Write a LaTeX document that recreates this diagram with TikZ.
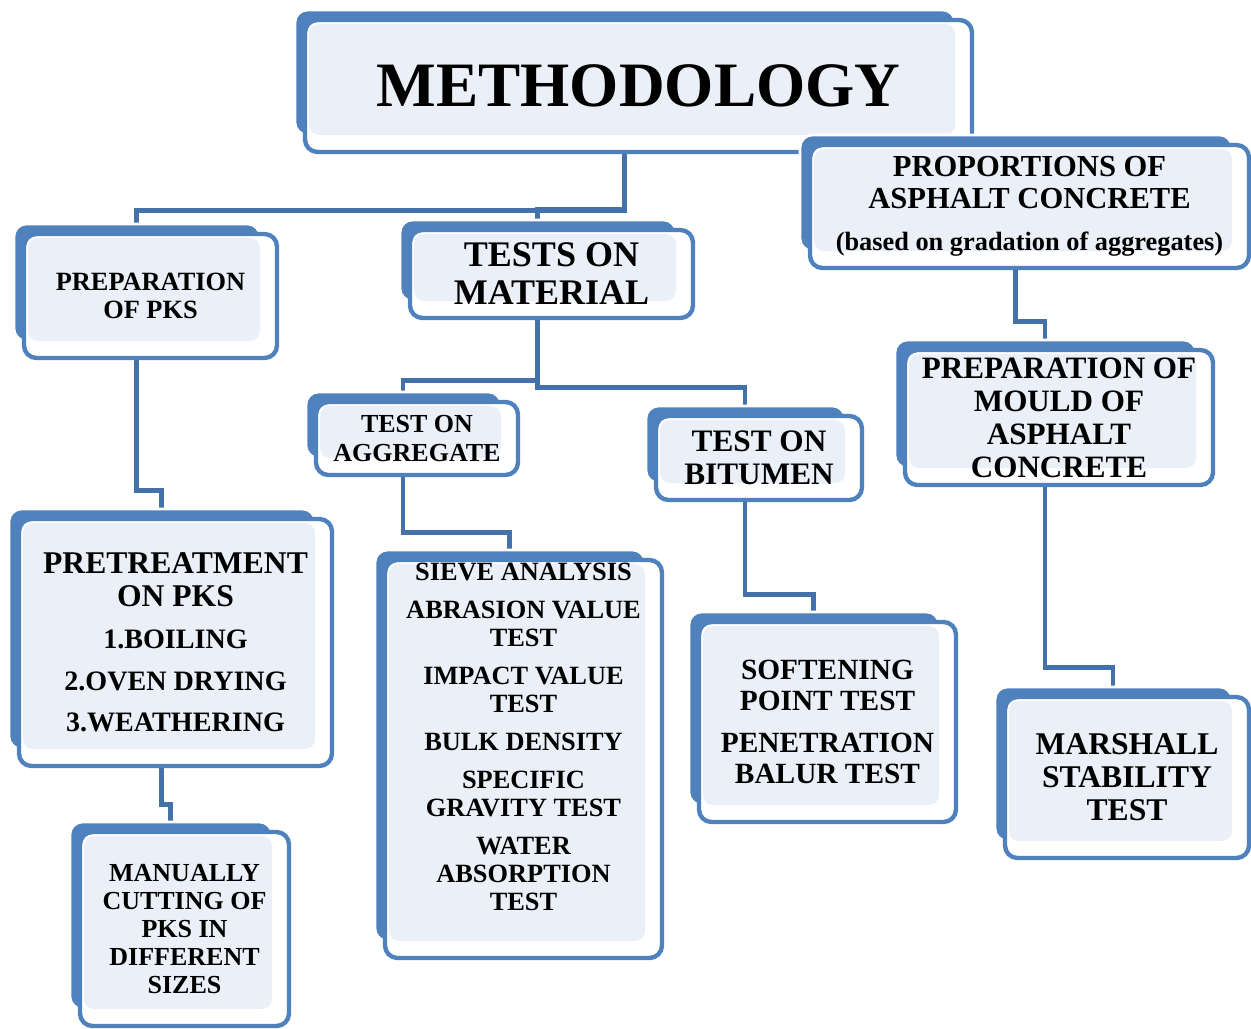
\documentclass[tikz,border=0pt]{standalone}
\usepackage{fontspec}
\setmainfont{Liberation Serif}
\usetikzlibrary{calc,backgrounds}

\definecolor{boxblue}{HTML}{4F81BD}
\definecolor{boxlight}{HTML}{EBF0F8}
\definecolor{linkblue}{HTML}{4571AB}

\newcommand{\fs}[2]{\fontsize{#1}{#2}\selectfont}

% front box (left, top, right, bottom) with its blue back plate
\newcommand{\tierbox}[7]{%
  \filldraw[fill=boxblue,draw=white,line width=1.5pt,rounded corners=0.25cm] (#2-10,#3-10) rectangle (#4-17,#5-17);
  \node[tier,font={\bfseries#6},minimum width={(#4-#2)*0.02cm},minimum height={(#5-#3)*0.02cm}] (#1) at ({(#2+#4)/2},{(#3+#5)/2}) {#7};}

\tikzset{
  tier/.style={draw=boxblue,line width=2.5pt,fill=white,rounded corners=0.25cm,
    align=center,inner sep=0pt,
    path picture={\fill[boxlight,rounded corners=0.2cm]
      ($(path picture bounding box.north west)+(4,4)$) rectangle
      ($(path picture bounding box.south east)+(-17,-17)$);}},
  txt/.style={align=center,inner sep=0pt},
  link/.style={draw=linkblue,line width=2.8pt},
}

\begin{document}
\begin{tikzpicture}[x=0.02cm,y=-0.02cm]
  \useasboundingbox (0,0) rectangle (1251,1028);
  \def\cx{-14}      %x offset of the connectors from the box centres.

  % Top row
  \tierbox{meth}{305}{20}{972}{152}{\fs{36}{40}}{METHODOLOGY}
  \tierbox{prop}{810}{145}{1249}{268}{\fs{17.4}{18.2}}{PROPORTIONS OF\\ASPHALT CONCRETE\\[6pt]\fs{15}{16}(based on gradation of aggregates)}
  \tierbox{pks}{24}{234}{277}{358}{\fs{15}{15.5}}{PREPARATION\\OF PKS}
  \tierbox{matl}{410}{230}{693}{318}{\fs{20.5}{21.6}}{TESTS ON\\MATERIAL}

  % Second row
  \tierbox{agg}{316}{402}{518}{475}{\fs{14.8}{16}}{TEST ON\\AGGREGATE}
  \tierbox{bit}{656}{416}{862}{500}{\fs{17.8}{18.8}}{TEST ON\\BITUMEN}
  \tierbox{mould}{905}{350}{1213}{485}{\fs{17.7}{18.8}}{PREPARATION OF\\MOULD OF\\ASPHALT\\CONCRETE}

  % Lower boxes
  \tierbox{pre}{19}{519}{332}{766}{\fs{18}{18.8}}{PRETREATMENT\\ON PKS\\[5pt]\fs{16}{18.8}1.BOILING\\[5pt]\fs{16}{18.8}2.OVEN DRYING\\[5pt]\fs{16}{18.8}3.WEATHERING}
  \tierbox{man}{80}{832}{289}{1026}{\fs{14.8}{16}}{MANUALLY\\CUTTING OF\\PKS IN\\DIFFERENT\\SIZES}
  \tierbox{sieve}{385}{560}{662}{958}{}{}
  \node[txt,font={\bfseries\fs{15}{16}}] (sievetxt) at ($(sieve)+(0,-22)$) {SIEVE ANALYSIS\\[5.6pt]ABRASION VALUE\\TEST\\[5.6pt]IMPACT VALUE\\TEST\\[5.6pt]BULK DENSITY\\[5.6pt]SPECIFIC\\GRAVITY TEST\\[5.6pt]WATER\\ABSORPTION\\TEST};
  \tierbox{soft}{699}{622}{956}{822}{\fs{16.7}{17.6}}{SOFTENING\\POINT TEST\\[6.4pt]PENETRATION\\BALUR TEST}
  \tierbox{marsh}{1005}{697}{1249}{858}{\fs{18}{18.8}}{MARSHALL\\STABILITY\\TEST}

  % Connectors, behind the boxes
  \begin{scope}[on background layer]
    \draw[link] ($(meth.south)+(\cx,0)$) |- ($(pks.north)+(\cx,-21)$) -- ($(pks.north)+(\cx,0)$);
    \draw[link] ($(matl.north)+(\cx,0)$) |- ($(meth.south)+(\cx,55)$);
    \draw[link] ($(pks.south)+(\cx,0)$) |- ($(pre.north)+(\cx,-26)$) -- ($(pre.north)+(\cx,0)$);
    \draw[link] ($(pre.south)+(\cx,0)$) |- ($(man.north)+(\cx,-25)$) -- ($(man.north)+(\cx,0)$);
    \draw[link] ($(matl.south)+(\cx,0)$) |- ($(bit.north)+(\cx,-26)$) -- ($(bit.north)+(\cx,0)$);
    \draw[link] ($(matl.south)+(\cx,60)$) -| ($(agg.north)+(\cx,0)$);
    \draw[link] ($(agg.south)+(\cx,0)$) |- ($(sieve.north)+(\cx,-25)$) -- ($(sieve.north)+(\cx,0)$);
    \draw[link] ($(bit.south)+(\cx,0)$) |- ($(soft.north)+(\cx,-25)$) -- ($(soft.north)+(\cx,0)$);
    \draw[link] ($(prop.south)+(\cx,0)$) |- ($(mould.north)+(\cx,-26)$) -- ($(mould.north)+(\cx,0)$);
    \draw[link] ($(mould.south)+(\cx,0)$) |- ($(marsh.north)+(\cx,-27)$) -- ($(marsh.north)+(\cx,0)$);
  \end{scope}
\end{tikzpicture}
\end{document}
